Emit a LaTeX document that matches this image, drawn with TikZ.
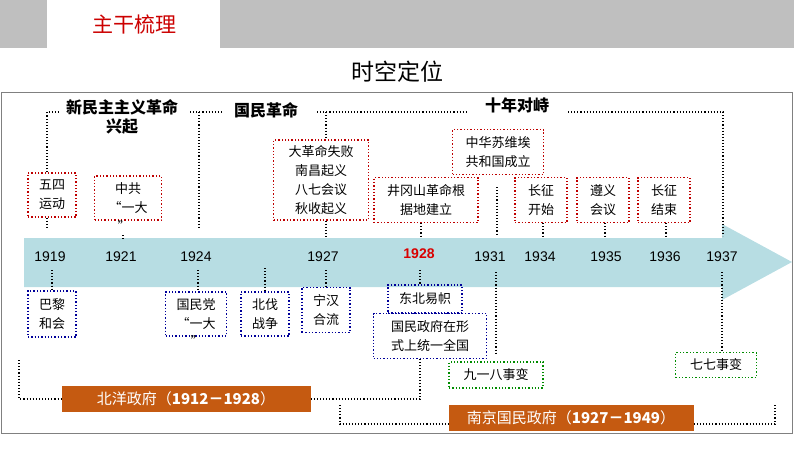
\documentclass[tikz,border=0pt]{standalone}
\usepackage{fontspec}
\setmainfont{Liberation Sans}
\newfontfamily\cjk{Noto Sans CJK SC}
\definecolor{arr}{HTML}{B7DDE3}
\definecolor{brn}{HTML}{C55A11}
\begin{document}
\begin{tikzpicture}[x=1pt,y=-1pt,
  bx/.style={draw,dotted,line width=1.3pt,inner sep=0pt,align=center,font=\cjk\fontsize{13}{19}\selectfont},
  rb/.style={bx,draw=red!75!black},
  bb/.style={bx,draw=blue!60!black},
  gb/.style={bx,draw=green!55!black},
  dl/.style={dotted,line width=1.1pt,black},
  yr/.style={font=\fontsize{14}{14}\selectfont},
  hd/.style={font=\cjk\bfseries\fontsize{16}{19}\selectfont,align=center},
  bar/.style={fill=brn,text=white,inner sep=0pt,font=\cjk\fontsize{15}{15}\selectfont}]
\useasboundingbox (0,0) rectangle (794,450);
\fill[gray!50] (0,0) rectangle (794,48);
\fill[white] (47,0) rectangle (220,48);
\node[text=red!80!black,font=\cjk\fontsize{21}{21}\selectfont] (t1) at (134,24) {主干梳理};
\node[font=\cjk\fontsize{23}{23}\selectfont] (t2) at (397,72) {时空定位};
\draw[gray,line width=1pt] (1,92) rectangle (792,433);
% arrow
\fill[arr] (24,238) -- (722,238) -- (722,224) -- (792,262) -- (722,300) -- (722,287) -- (24,287) -- cycle;
\foreach \x/\y/\n in {50/1919/a,121/1921/b,196/1924/c,323/1927/d,490/1931/f,540/1934/g,606/1935/h,665/1936/i,722/1937/j}
  \node[yr] (y\n) at (\x,257) {\y};
\node[yr,text=red!85!black] (ye) at (419,254) {\bfseries 1928};
% heads
\node[hd] (h1) at (122,117) {新民主主义革命\\兴起};
\node[hd] (h2) at (266,110) {国民革命};
\node[hd] (h3) at (517,105) {十年对峙};
% top boxes
\node[rb,minimum width=48,minimum height=44] (b1) at (52,195) {五四\\运动};
\node[rb,minimum width=67,minimum height=44] (b2) at (128,198) {中共\\“一大};
\node[font=\cjk\fontsize{13}{13}\selectfont] (q1) at (124,226) {”};
\node[rb,minimum width=95,minimum height=80] (b3) at (321,180) {大革命失败\\南昌起义\\八七会议\\秋收起义};
\node[rb,minimum width=104,minimum height=45] (b4) at (426,200) {井冈山革命根\\据地建立};
\node[rb,minimum width=91,minimum height=45] (b5) at (498,152) {中华苏维埃\\共和国成立};
\node[rb,minimum width=52,minimum height=45] (b6) at (541,200) {长征\\开始};
\node[rb,minimum width=52,minimum height=45] (b7) at (603,200) {遵义\\会议};
\node[rb,minimum width=52,minimum height=45] (b8) at (664,200) {长征\\结束};
% bottom boxes
\node[bb,minimum width=48,minimum height=46] (c1) at (52,314) {巴黎\\和会};
\node[bb,minimum width=61,minimum height=44] (c2) at (196,314) {国民党\\“一大};
\node[font=\cjk\fontsize{13}{13}\selectfont] (q2) at (197,341) {”};
\node[bb,minimum width=48,minimum height=44] (c3) at (265,314) {北伐\\战争};
\node[bb,minimum width=48,minimum height=45] (c4) at (326,310) {宁汉\\合流};
\node[bb,minimum width=74,minimum height=28] (c5) at (425,299) {东北易帜};
\node[bb,minimum width=113,minimum height=45] (c6) at (430,336) {国民政府在形\\式上统一全国};
\node[gb,minimum width=94,minimum height=26] (c7) at (496,375) {九一八事变};
\node[gb,minimum width=81,minimum height=25] (c8) at (716,365) {七七事变};
\node[bar,minimum width=249,minimum height=26] (n1) at (186,399) {北洋政府（\textbf{1912－1928}）};
\node[bar,minimum width=245,minimum height=26] (n2) at (571,418) {南京国民政府（\textbf{1927－1949}）};
% top connectors
\draw[dl] (b1.north -| 47,0) -- (47,112) -- (58,112);
\draw[dl] (190,112) -- (222,112);
\draw[dl] (199,112) -- (199,228);
\draw[dl] (317,112) -- (467,112);
\draw[dl] (326,112) -- (b3.north -| 326,0);
\draw[dl] (568,112) -- (723,112) -- (723,236);
\draw[dl] (b1.south -| 47,0) -- (47,230);
\draw[dl] (q1.south -| 123,0) -- (123,240);
\draw[dl] (b3.south -| 326,0) -- (326,238);
\draw[dl] (b4.south -| 421,0) -- (421,238);
\draw[dl] (b6.south -| 543,0) -- (543,238);
\draw[dl] (b7.south -| 605,0) -- (605,238);
\draw[dl] (b8.south -| 666,0) -- (666,238);
\draw[dl] (497,187) -- (497,236);
% bottom connectors
\draw[dl] (52,270) -- (c1.north -| 52,0);
\draw[dl] (198,270) -- (c2.north -| 198,0);
\draw[dl] (265,268) -- (c3.north -| 265,0);
\draw[dl] (326,270) -- (c4.north -| 326,0);
\draw[dl] (420,270) -- (c5.north -| 420,0);
\draw[dl] (496,272) -- (496,355);
\draw[dl] (722,272) -- (c8.north -| 722,0);
\draw[dl] (19,360) -- (19,399) -- (n1.west);
\draw[dl] (n1.east) -- (420,399) -- (c6.south -| 420,0);
\draw[dl] (340,405) -- (340,424) -- (n2.west |- 0,424);
\draw[dl] (n2.east |- 0,424) -- (775,424) -- (775,405);
\end{tikzpicture}
\end{document}
